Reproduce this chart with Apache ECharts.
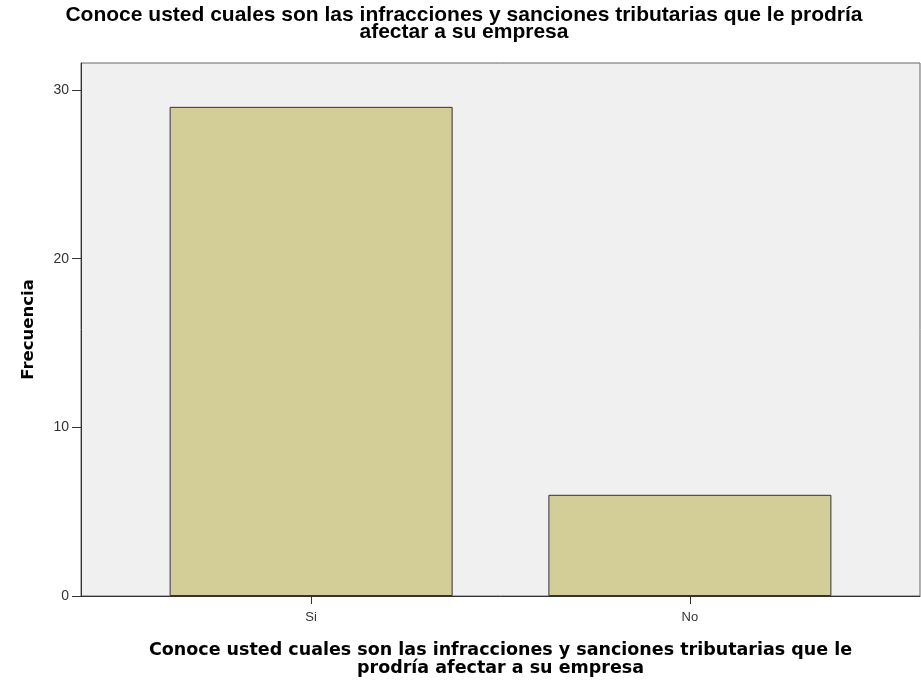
<!DOCTYPE html>
<html>
<head>
<meta charset="utf-8">
<style>
  html, body { margin: 0; padding: 0; background: #fff; }
  #chart { width: 921px; height: 682px; }
</style>
<script src="https://cdn.jsdelivr.net/npm/echarts@6/dist/echarts.min.js"></script>
</head>
<body>
<div id="chart"></div>
<script>
const categories = ["Si", "No"];
const frecuencia = [29, 6];
const yTicks = [0, 10, 20, 30];

const titleText = "Conoce usted cuales son las infracciones y sanciones tributarias que le prodría\nafectar a su empresa";
const xName = "Conoce usted cuales son las infracciones y sanciones tributarias que le\nprodría afectar a su empresa";

const chart = echarts.init(document.getElementById("chart"), null, { renderer: "canvas" });

const option = {
  animation: false,
  title: {
    text: titleText,
    left: 459,
    top: 1,
    textAlign: "center",
    textStyle: {
      fontFamily: "Liberation Sans",
      fontWeight: "bold",
      fontSize: 21,
      lineHeight: 17.5,
      color: "#000",
    },
  },
  grid: [
    // marco del gráfico
    {
      left: 81, right: 1, top: 63, bottom: 86,
      show: true,
      backgroundColor: "#f0f0f0",
      borderColor: "#666",
      borderWidth: 1,
    },
    // barras
    {
      left: 121.75, right: 41.75, top: 63, bottom: 86,
    },
  ],
  xAxis: [
    {
      gridIndex: 0,
      type: "value",
      min: 0, max: 1,
      axisLine: { show: true, lineStyle: { color: "#333", width: 1 } },
      axisTick: { show: false },
      axisLabel: { show: false },
      splitLine: { show: false },
    },
    {
      gridIndex: 1,
      type: "category",
      data: categories,
      axisLine: { show: false },
      axisTick: { show: true, alignWithLabel: true, length: 8, lineStyle: { color: "#333" } },
      axisLabel: {
        margin: 15,
        fontFamily: "Liberation Sans",
        fontSize: 13,
        color: "#333",
      },
      name: xName,
      nameLocation: "middle",
      nameGap: 45,
      nameTextStyle: {
        fontFamily: "DejaVu Sans",
        fontWeight: "bold",
        fontSize: 17.5,
        lineHeight: 18,
        color: "#000",
      },
    },
  ],
  yAxis: [
    {
      gridIndex: 0,
      type: "value",
      min: 0, max: 31.6,
      axisLine: { show: true, lineStyle: { color: "#333", width: 1 } },
      axisTick: { show: true, length: 9, customValues: yTicks, lineStyle: { color: "#333" } },
      axisLabel: {
        customValues: yTicks,
        margin: 12,
        fontFamily: "Liberation Sans",
        fontSize: 14,
        color: "#333",
      },
      splitLine: { show: false },
      name: "Frecuencia",
      nameLocation: "middle",
      nameGap: 44,
      nameTextStyle: {
        fontFamily: "DejaVu Sans",
        fontWeight: "bold",
        fontSize: 16.5,
        color: "#000",
      },
    },
    {
      gridIndex: 1,
      type: "value",
      min: 0, max: 31.6,
      show: false,
    },
  ],
  series: [
    {
      type: "bar",
      xAxisIndex: 1,
      yAxisIndex: 1,
      data: frecuencia,
      barWidth: 283,
      itemStyle: {
        color: "#d3cd98",
        borderColor: "#333",
        borderWidth: 1,
      },
    },
  ],
};

chart.setOption(option);
</script>
</body>
</html>
